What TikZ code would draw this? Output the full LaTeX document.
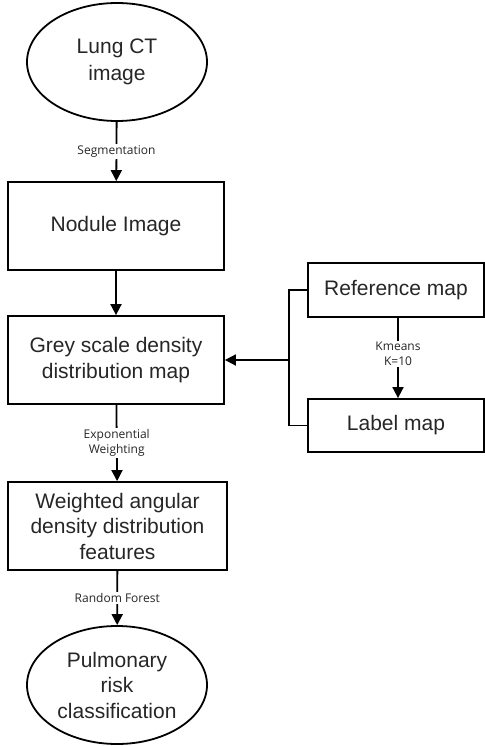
\documentclass[tikz,border=0pt]{standalone}
\usepackage{fontspec}
\setmainfont{Liberation Sans}
\newfontfamily\labelfont{Open Sans}
\usetikzlibrary{shapes.geometric,arrows.meta}
\begin{document}
\begin{tikzpicture}[x=1pt,y=-1pt,
  line width=1.8pt,
  every node/.style={font=\fontsize{21}{25.5}\selectfont, text=black!85},
  term/.style={draw, ellipse, minimum width=180pt, minimum height=118pt, inner sep=0pt, align=center},
  procbox/.style={draw, rectangle, align=center, inner sep=0pt},
  flow/.style={-{Triangle[length=11pt,width=11pt]}},
  lbl/.style={fill=white, inner sep=1.5pt, font=\labelfont\fontsize{12}{15}\selectfont, align=center}]
\useasboundingbox (0,0) rectangle (484,746);

% left column
\node[term, font=\fontsize{21}{27}\selectfont] (ct) at (117,62) {Lung CT\\image};
\node[procbox, minimum width=216pt, minimum height=88pt] (nod) at (116,226) {Nodule Image};
\node[procbox, minimum width=216pt, minimum height=88pt] (grey) at (116,360) {Grey scale density\\distribution map};
\node[procbox, minimum width=219pt, minimum height=88pt] (feat) at (117.5,526) {Weighted angular\\density distribution\\features};
\node[term] (risk) at (117,685) {Pulmonary\\risk\\classification};

% right column
\node[procbox, minimum width=176pt, minimum height=54pt] (ref) at (396,290) {Reference map};
\node[procbox, minimum width=176pt, minimum height=53pt] (lab) at (396,425.5) {Label map};

% connectors
\draw[flow] (ct) -- node[lbl, pos=0.5] {Segmentation} (nod);
\draw[flow] (nod) -- (grey);
\draw[flow] (grey) -- node[lbl, pos=0.5] {Exponential\\Weighting} (feat);
\draw[flow] (feat) -- node[lbl, pos=0.5] {Random Forest} (risk);
\draw[flow] (ref.south -| 398,0) -- node[lbl, pos=0.45] {Kmeans\\K=10} (lab.north -| 398,0);

% bracket joining both maps into the density map
\coordinate (join) at (289,360);
\draw (ref.west) -| (join) |- (lab.west);
\draw[flow] (join) -- (grey.east);
\end{tikzpicture}
\end{document}
